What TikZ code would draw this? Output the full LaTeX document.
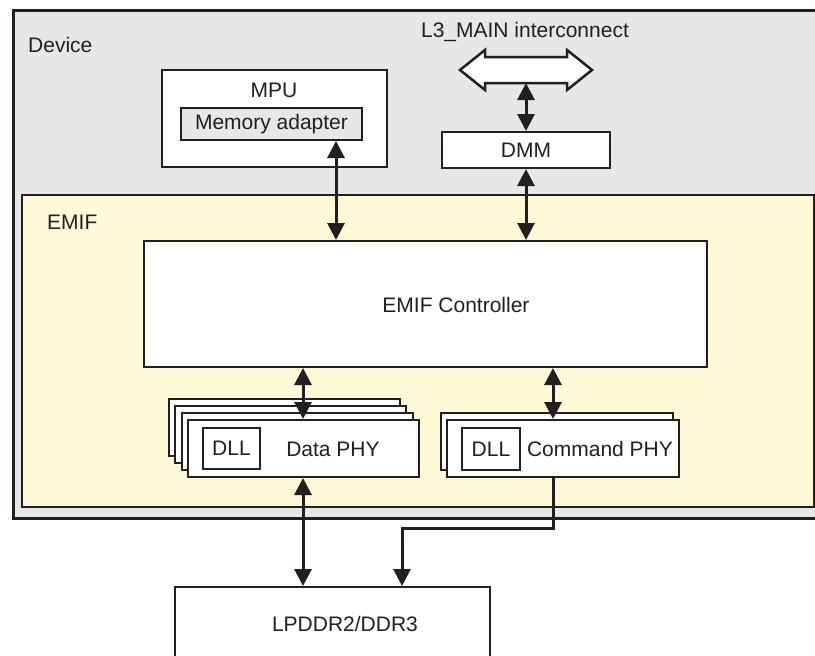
\documentclass[tikz,border=0pt]{standalone}
\usepackage{fontspec}
\setmainfont{Liberation Sans}
\usetikzlibrary{arrows.meta}
\definecolor{devgray}{RGB}{230,231,232}
\definecolor{emifyel}{RGB}{255,249,215}
\definecolor{ink}{RGB}{35,31,32}
\begin{document}
\begin{tikzpicture}[x=1pt,y=-1pt,
  box/.style={draw=ink, line width=2pt, fill=white, inner sep=0pt, rectangle},
  lbl/.style={inner sep=0pt, text=ink, font=\fontsize{21}{24}\selectfont},
  tipa/.tip={Triangle[width=17pt,length=17pt]},
  conn/.style={draw=ink, line width=3pt, tipa-tipa},
  conn1/.style={draw=ink, line width=3pt, -tipa},
  bigarrow/.style={draw=ink, line width=2.5pt, fill=white, line join=miter}]
\useasboundingbox (0,0) rectangle (815,656);
\fill[white] (0,0) rectangle (815,656);

% containers
\node[box, fill=devgray, line width=3pt, minimum width=817pt, minimum height=508pt] (dev) at (421.5,264) {};
\node[lbl, anchor=west] (devl) at (28,45) {Device};
\node[box, fill=emifyel, minimum width=792pt, minimum height=312pt] (emif) at (418,351) {};
\node[lbl, anchor=west] (emifl) at (47,222) {EMIF};

% MPU
\node[box, minimum width=225pt, minimum height=97pt] (mpu) at (274.5,118.5) {};
\node[lbl] (mpul) at (274,90) {MPU};
\node[box, fill=devgray, minimum width=181pt, minimum height=32pt] (mem) at (271.5,124) {};
\node[lbl] (meml) at (mem) {Memory adapter};

% L3 interconnect
\node[lbl] (l3l) at (525,32) {L3\_MAIN interconnect};
\draw[bigarrow] (460,70) -- (485,50) -- (485,57) -- (567,57) -- (567,50) -- (592,70)
  -- (567,90) -- (567,83) -- (485,83) -- (485,90) -- cycle;
\coordinate (l3b) at (526,83);

% DMM
\node[box, minimum width=168pt, minimum height=36pt] (dmm) at (526,150) {};
\node[lbl] (dmml) at (dmm) {DMM};

% controller
\node[box, minimum width=563pt, minimum height=126pt] (ctrl) at (425.5,304) {};
\node[lbl] (ctrll) at (456,305) {EMIF Controller};

% Data PHY stack
\node[box, minimum width=231pt, minimum height=57pt] (dp3) at (284,427.5) {};
\node[box, minimum width=231pt, minimum height=57pt] (dp2) at (290.5,434.5) {};
\node[box, minimum width=231pt, minimum height=57pt] (dp1) at (297,441.5) {};
\node[box, minimum width=231pt, minimum height=57pt] (dp) at (303.5,448.5) {};
\node[box, minimum width=57pt, minimum height=41pt] (dll1) at (231.5,448.5) {};
\node[lbl] (dll1l) at (dll1) {DLL};
\node[lbl] (dpl) at (333,449) {Data PHY};

% Command PHY
\node[box, minimum width=232pt, minimum height=57pt] (cp1) at (556.5,441.5) {};
\node[box, minimum width=232pt, minimum height=57pt] (cp) at (563,448.5) {};
\node[box, minimum width=58pt, minimum height=42pt] (dll2) at (491,449) {};
\node[lbl] (dll2l) at (dll2) {DLL};
\node[lbl] (cpl) at (600,449) {Command PHY};

% memory
\node[box, minimum width=315pt, minimum height=133pt] (ddr) at (332.5,653.5) {};
\node[lbl] (ddrl) at (345,624) {LPDDR2/DDR3};

% connectors
\coordinate (xa) at (336,0);
\coordinate (xd) at (303,0);
\coordinate (xc) at (553,0);
\coordinate (bend) at (402,528);
\draw[conn] (l3b) -- (dmm.north);
\draw[conn] (dmm.south) -- (dmm.south |- ctrl.north);
\draw[conn] (xa |- mem.south) -- (xa |- ctrl.north);
\draw[conn] (xd |- ctrl.south) -- (xd |- dp.north);
\draw[conn] (xc |- ctrl.south) -- (xc |- cp.north);
\draw[conn] (xd |- dp.south) -- (xd |- ddr.north);
\draw[conn1] (xc |- cp.south) |- (bend) -- (bend |- ddr.north);
\end{tikzpicture}
\end{document}
